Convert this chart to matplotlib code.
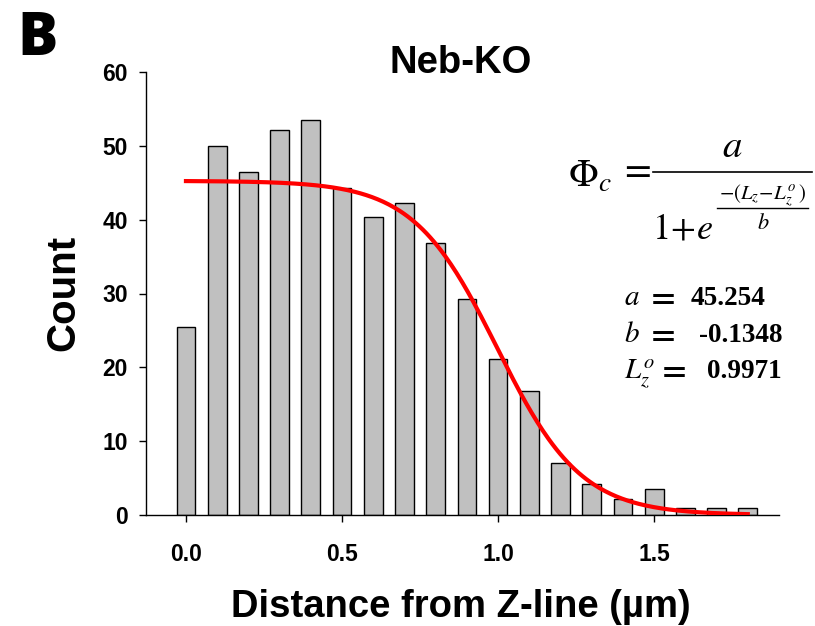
import numpy as np
import matplotlib
matplotlib.use("Agg")
import matplotlib.pyplot as plt

plt.rcParams['font.family'] = ['Liberation Sans', 'DejaVu Sans']
plt.rcParams['mathtext.fontset'] = 'stix'

# histogram of distances from the Z-line (bin centres, um) and counts
distance = [0.0, 0.1, 0.2, 0.3, 0.4, 0.5, 0.6, 0.7, 0.8, 0.9,
            1.0, 1.1, 1.2, 1.3, 1.4, 1.5, 1.6, 1.7, 1.8]
count = [25.4, 50.0, 46.5, 52.1, 53.5, 44.3, 40.3, 42.2, 36.9, 29.2,
         21.1, 16.8, 7.0, 4.2, 2.1, 3.5, 1.0, 1.0, 1.0]

# sigmoid fit parameters
A_FIT = 45.254
B_FIT = -0.1348
LZ0_FIT = 0.9971

W, H = 815, 626


def fx(px):
    return px / W


def fy(py):
    return 1 - py / H


def sigmoid(x, a, b, l0):
    return a / (1 + np.exp(-(x - l0) / b))


fig = plt.figure(figsize=(W / 100, H / 100), dpi=100)
ax = fig.add_axes([fx(146), fy(515), fx(779) - fx(146), fy(72) - fy(515)])

ax.bar(distance, count, width=0.06, color='#c0c0c0', edgecolor='black',
       linewidth=1.0, zorder=2)

xs = np.linspace(distance[0], distance[-1], 300)
ax.plot(xs, sigmoid(xs, A_FIT, B_FIT, LZ0_FIT), color='red', lw=3, zorder=3)

ax.set_xlim(-0.128, 1.90)
ax.set_ylim(0, 60)
ax.set_xticks([0.0, 0.5, 1.0, 1.5])
ax.set_xticklabels(['0.0', '0.5', '1.0', '1.5'])
ax.set_yticks(np.arange(0, 61, 10))
ax.spines['top'].set_visible(False)
ax.spines['right'].set_visible(False)
for s in ['left', 'bottom']:
    ax.spines[s].set_linewidth(1.0)
ax.tick_params(axis='both', direction='out', length=5, width=1.0,
               labelsize=16.5)
ax.tick_params(axis='x', pad=15)
ax.tick_params(axis='y', pad=8)
for lab in ax.get_xticklabels() + ax.get_yticklabels():
    lab.set_fontweight('bold')

fig.text(fx(461), fy(73), 'Neb-KO', fontsize=27.5, fontweight='bold',
         ha='center', va='baseline')
fig.text(fx(17), fy(55), 'B', fontsize=43, fontweight='heavy',
         family=['Open Sans', 'Liberation Sans'], ha='left', va='baseline')
fig.text(fx(63), fy(293), 'Count', fontsize=29, fontweight='bold',
         rotation=90, ha='center', va='center')
fig.text(fx(461), fy(617), 'Distance from Z-line (µm)', fontsize=27.5,
         fontweight='bold', ha='center', va='baseline')

# fit equation
fig.text(fx(568), fy(187), r'$\Phi_c$', fontsize=28, ha='left', va='baseline')
fig.text(fx(619), fy(180), r'$=$', fontsize=28, ha='left', va='baseline')
fig.add_artist(plt.Line2D([fx(653), fx(812)], [fy(172), fy(172)],
                          color='black', lw=1.2))
fig.text(fx(732), fy(157), r'$a$', fontsize=28, ha='center', va='baseline')
fig.text(fx(652), fy(239), r'$1\!+\!e$', fontsize=26, ha='left', va='baseline')
fig.text(fx(763), fy(200), r'$-(L_z\!-\!L_z^o\,)$', fontsize=15,
         ha='center', va='baseline')
fig.add_artist(plt.Line2D([fx(717), fx(808)], [fy(208), fy(208)],
                          color='black', lw=1.0))
fig.text(fx(763), fy(229), r'$b$', fontsize=16, ha='center', va='baseline')

# fitted parameter values
rows = [(r'$a$', '45.254', 305, 646, 691),
        (r'$b$', '-0.1348', 342, 646, 699),
        (r'$L_z^o$', '0.9971', 378, 657, 707)]
for sym, txt, base, xeq, xnum in rows:
    fig.text(fx(624), fy(base), sym, fontsize=21, ha='left', va='baseline')
    fig.text(fx(xeq), fy(base + 1), r'$\mathbf{=}$', fontsize=24,
             ha='left', va='baseline')
    fig.text(fx(xnum), fy(base), txt, fontsize=19.5, fontweight='bold',
             family='Liberation Serif', ha='left', va='baseline')

fig.savefig('out.png', dpi=100)
